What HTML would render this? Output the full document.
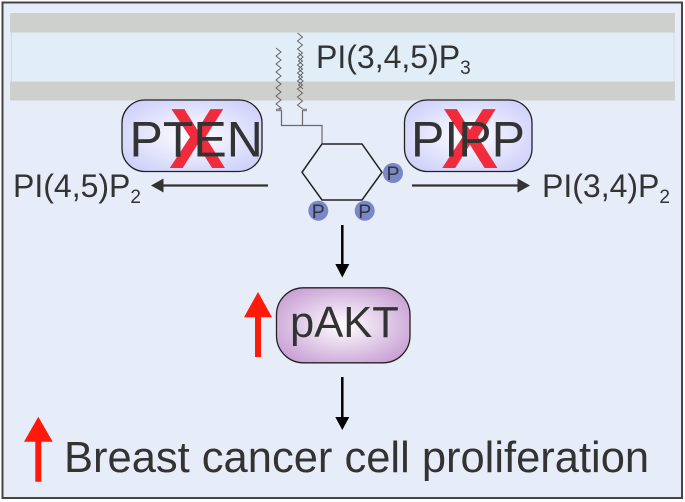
<!DOCTYPE html>
<html>
<head>
<meta charset="utf-8">
<style>
html,body{margin:0;padding:0;background:#fff;width:685px;height:502px;overflow:hidden}
svg{display:block}
text{font-family:"Liberation Sans",sans-serif;fill:#333}
</style>
</head>
<body>
<svg width="685" height="502" viewBox="0 0 685 502" xmlns="http://www.w3.org/2000/svg">
<defs>
<radialGradient id="b" r="0.62"><stop offset="0" stop-color="#ffffff"/><stop offset="1" stop-color="#cdcffa"/></radialGradient>
<radialGradient id="p" r="0.58"><stop offset="0" stop-color="#ffffff"/><stop offset="1" stop-color="#c9a2d5"/></radialGradient>
</defs>
<rect x="2.5" y="2.5" width="679.5" height="495.5" fill="#e6ecf8" stroke="#444" stroke-width="2"/>
<rect x="11.500" y="32" width="662.500" height="50" fill="#e1eef8" stroke="#d3d8e4" stroke-width="1"/>
<rect x="10" y="13" width="665" height="19.500" fill="#ced0cd"/>
<rect x="10" y="81.500" width="665" height="19" fill="#ced0cd"/>

<g fill="none" stroke="#666" stroke-width="1">
<polyline points="276,48 281,52 276,56 281,60 276,64 281,68 276,72 281,76 276,80 281,84 276,88 281,92 276,96 281,100 276,104 281,108 276,110"/>
<polyline points="297.500,33 302.500,37 297.500,41 302.500,45 297.500,49 302.500,53 297.500,57 302.500,61 297.500,65 302.500,69 297.500,73 302.500,77 297.500,81 302.500,85 297.500,89 302.500,93 297.500,97 302.500,101 297.500,105 302.500,109"/>
<polyline points="298.500,53 303,57 298.500,61 303,65 298.500,69 303,73 298.500,77 303,81 298.500,85 303,89"/>
</g>
<g fill="none" stroke="#6a6a6a" stroke-width="1.200">
<path d="M281.500 110V125.500H322V144M302.500 110V125.500"/>
</g>
<path d="M276 110H281.500M302.500 110H307" stroke="#888" stroke-width="2.500" fill="none"/>

<rect x="122" y="100" width="140" height="71.500" rx="23" fill="url(#b)" stroke="#222" stroke-width="1.300"/>
<rect x="404.500" y="100" width="127.500" height="71.500" rx="23" fill="url(#b)" stroke="#222" stroke-width="1.300"/>
<text x="169" y="168" font-size="85" font-weight="bold" style="fill:#f02b3c">X</text>
<text x="441.500" y="168" font-size="85" font-weight="bold" style="fill:#f02b3c">X</text>
<text x="129.500" y="156.500" font-size="50">PTEN</text>
<text x="411" y="156.500" font-size="50">PIPP</text>

<polygon points="322,144 362,144 382,172.300 362,200 322,200 302,172.300" fill="none" stroke="#222" stroke-width="1.500"/>
<circle cx="393" cy="173" r="10" fill="#7a87c8"/>
<circle cx="318.300" cy="210.700" r="10" fill="#7a87c8"/>
<circle cx="364.700" cy="210.700" r="10" fill="#7a87c8"/>
<text x="393" y="180" font-size="19.500" text-anchor="middle">P</text>
<text x="318.300" y="218" font-size="19.500" text-anchor="middle">P</text>
<text x="364.700" y="218" font-size="19.500" text-anchor="middle">P</text>

<text x="316" y="68" font-size="32">PI(3,4,5)P<tspan font-size="19" dy="6">3</tspan></text>
<text x="13" y="197" font-size="32">PI(4,5)P<tspan font-size="19" dy="6">2</tspan></text>
<text x="542" y="197" font-size="32">PI(3,4)P<tspan font-size="19" dy="6">2</tspan></text>

<path d="M268 185.500H160" stroke="#333" stroke-width="2.200"/>
<polygon points="151,185.500 163.500,178.500 163.500,192.500" fill="#333"/>
<path d="M412 185.500H520" stroke="#333" stroke-width="2.200"/>
<polygon points="530,185.500 517.500,178.500 517.500,192.500" fill="#333"/>

<path d="M342.300 225V268" stroke="#000" stroke-width="2.500"/>
<polygon points="342.300,277.500 335.300,264 349.300,264" fill="#000"/>
<path d="M342.300 377V420" stroke="#000" stroke-width="2.500"/>
<polygon points="342.300,430 335.300,417 349.300,417" fill="#000"/>

<rect x="276.500" y="287.800" width="133.500" height="75" rx="27" fill="url(#p)" stroke="#222" stroke-width="1.300"/>
<text x="290" y="337" font-size="43.500">pAKT</text>

<polygon points="258,292 272,317.300 261,317.300 261,357 255,357 255,317.300 244,317.300" fill="#fe1a0a"/>
<polygon points="38.300,416.700 52.700,441.700 41.300,441.700 41.300,481.700 35.300,481.700 35.300,441.700 24,441.700" fill="#fe1a0a"/>

<text x="64" y="472" font-size="43.500">Breast cancer cell proliferation</text>
</svg>
</body>
</html>
